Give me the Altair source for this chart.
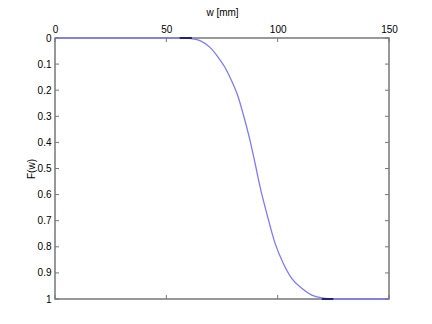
import altair as alt
import pandas as pd

# CDF curve
w_vals = [0, 50, 56, 60, 62.5, 65.1, 69.6, 73.3, 76.3, 79.3, 82.3, 84.5, 87.6,
          89.8, 92.1, 95.1, 98.8, 102.5, 106.3, 110.8, 115.3, 119.8, 125, 150]
F_vals = [0, 0, 0, 0.001, 0.004, 0.01, 0.036, 0.074, 0.112, 0.164, 0.227, 0.291,
          0.393, 0.478, 0.57, 0.672, 0.786, 0.863, 0.921, 0.959, 0.985, 0.996, 1, 1]

# short dark segments
dark_w = [56, 61.5, 119.8, 125]
dark_F = [0, 0, 1, 1]
dark_seg = ["a", "a", "b", "b"]

x_ticks = [0, 50, 100, 150]
y_ticks = [0, 0.1, 0.2, 0.3, 0.4, 0.5, 0.6, 0.7, 0.8, 0.9, 1]

W, H = 334, 261
FONT = "Liberation Sans"

curve = pd.DataFrame({"w": w_vals, "F": F_vals})
dark = pd.DataFrame({"w": dark_w, "F": dark_F, "seg": dark_seg})
xt = pd.DataFrame({"w": x_ticks})
yt = pd.DataFrame({"F": y_ticks})

xscale = alt.Scale(domain=[0, 150], nice=False, zero=False)
yscale = alt.Scale(domain=[0, 1], reverse=True, nice=False)

xaxis = alt.Axis(orient="top", values=x_ticks, title="w [mm]", domain=False,
                 ticks=False, grid=False, labelFont=FONT, labelFontSize=10,
                 labelColor="black", labelPadding=4, labelOverlap=False,
                 titleFont=FONT, titleFontSize=10, titleFontWeight="normal",
                 titleColor="black", titlePadding=7, labelFlush=False)
yaxis = alt.Axis(orient="left", values=y_ticks, title="F(w)", domain=False,
                 ticks=False, grid=False, labelFont=FONT, labelFontSize=10,
                 labelColor="black", labelPadding=4, labelOverlap=False,
                 labelFlush=False,
                 labelExpr="format(datum.value, '.1~f')",
                 titleFont=FONT, titleFontSize=10, titleFontWeight="normal",
                 titleColor="black", titlePadding=1)

X = alt.X("w:Q", scale=xscale, axis=xaxis)
Y = alt.Y("F:Q", scale=yscale, axis=yaxis)

line = alt.Chart(curve).mark_line(color="#7b7bff", strokeWidth=1.3,
                                  interpolate="monotone").encode(x=X, y=Y)
dark_line = alt.Chart(dark).mark_line(color="#000060", strokeWidth=1.5).encode(
    x=X, y=Y, detail="seg:N")

tc = "#777777"
top_ticks = alt.Chart(xt).mark_rule(color=tc).encode(
    x=X, y=alt.value(0), y2=alt.value(4))
bot_ticks = alt.Chart(xt).mark_rule(color=tc).encode(
    x=X, y=alt.value(H - 4), y2=alt.value(H))
left_ticks = alt.Chart(yt).mark_rule(color=tc).encode(
    y=Y, x=alt.value(0), x2=alt.value(4))
right_ticks = alt.Chart(yt).mark_rule(color=tc).encode(
    y=Y, x=alt.value(W - 4), x2=alt.value(W))

chart = alt.layer(line, dark_line, top_ticks, bot_ticks, left_ticks, right_ticks).properties(
    width=W, height=H,
    autosize=alt.AutoSizeParams(type="none"),
    padding={"left": 55, "top": 38, "right": 43, "bottom": 25},
    background="white",
).configure_view(stroke="#777777", strokeWidth=1.5)

chart.save("out.html", embed_options={"renderer": "svg", "actions": False})
